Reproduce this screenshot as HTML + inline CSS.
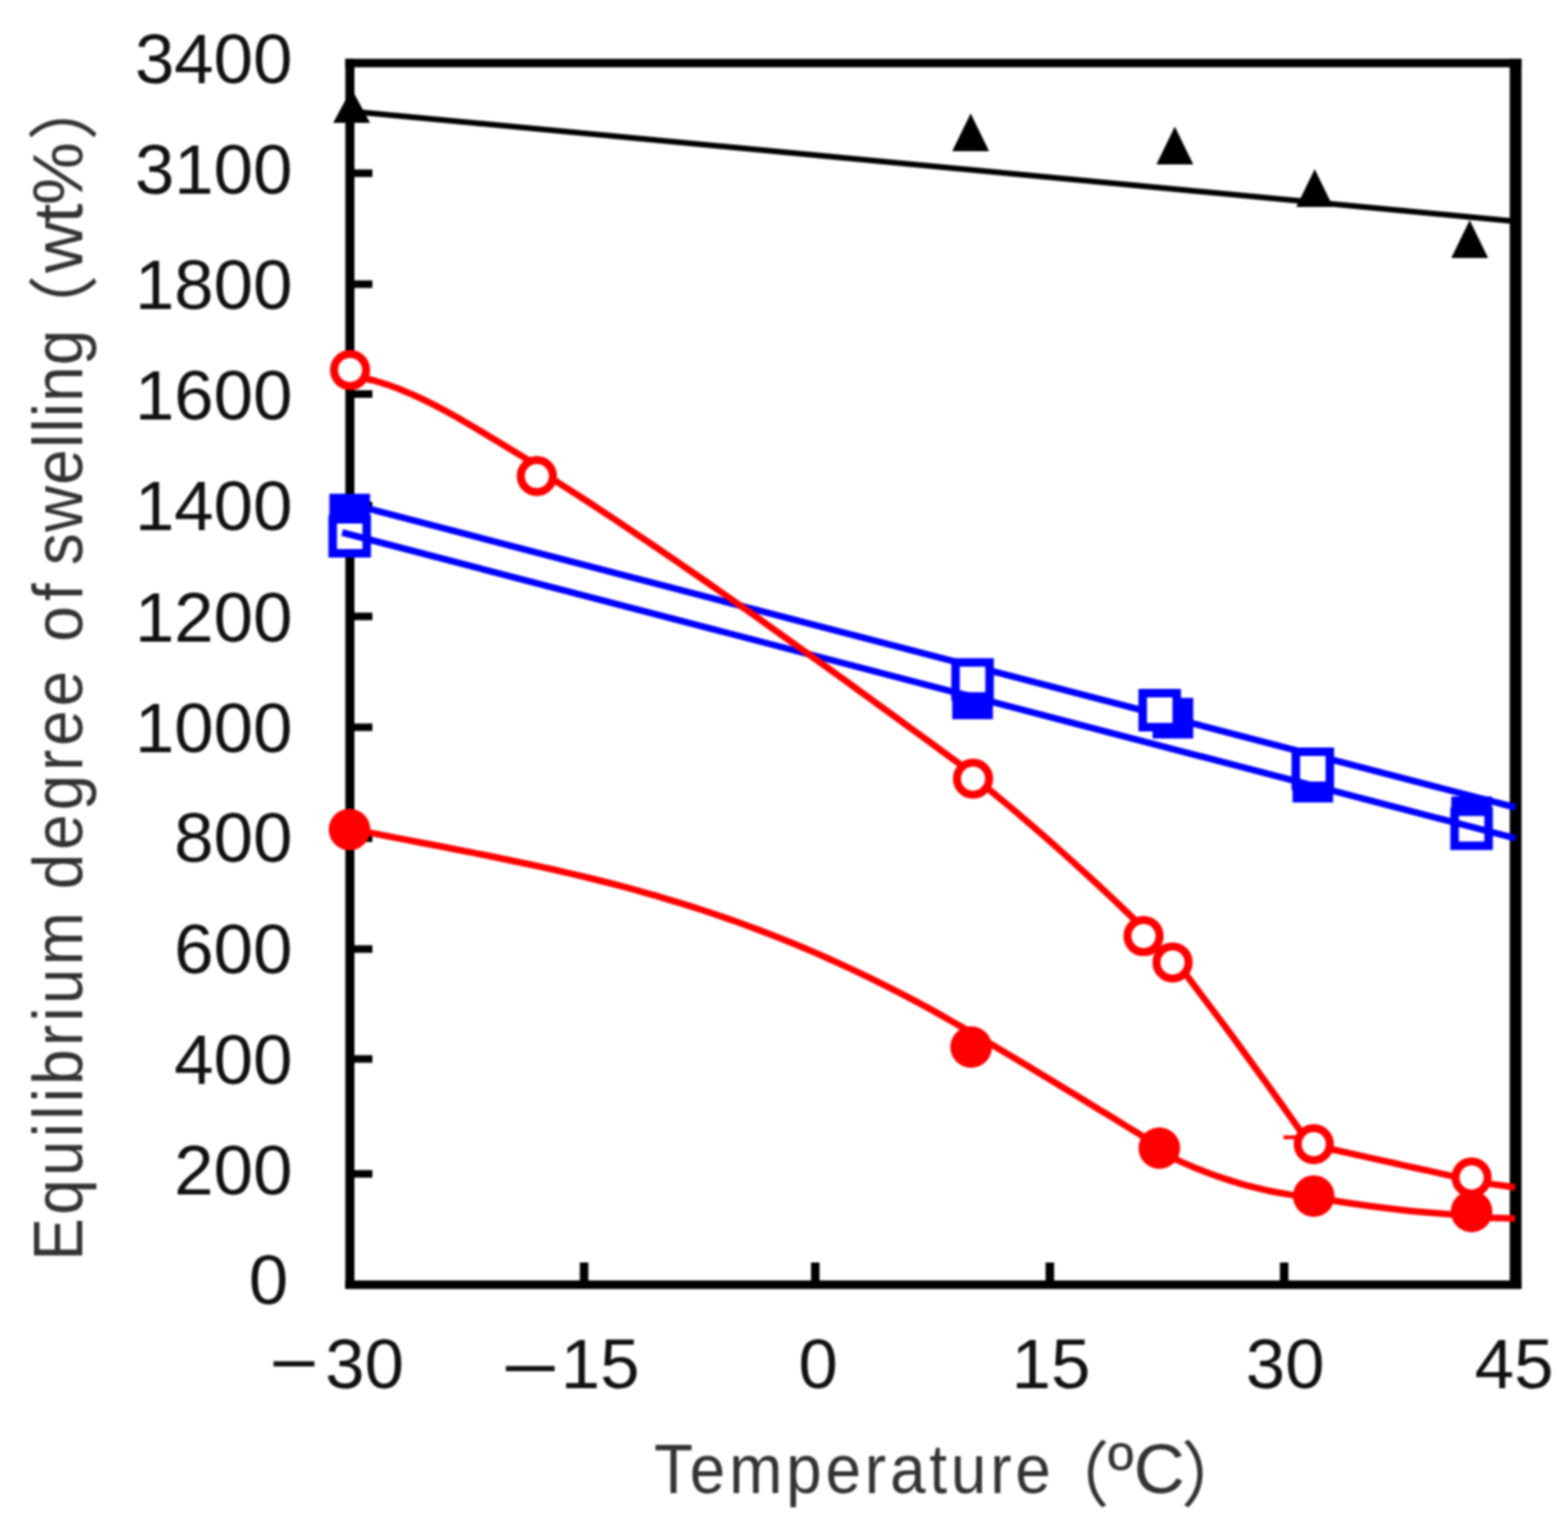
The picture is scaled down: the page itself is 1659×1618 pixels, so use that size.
<!DOCTYPE html>
<html><head><meta charset="utf-8"><title>Equilibrium degree of swelling vs temperature</title>
<style>html,body{margin:0;padding:0;background:#fff;overflow:hidden}svg{display:block;filter:blur(1.2px)}</style></head>
<body>
<svg width="1659" height="1618" viewBox="0 0 1659 1618">
<rect width="1659" height="1618" fill="#fff"/>
<line x1="618" y1="1336" x2="618" y2="1360" stroke="#000" stroke-width="9"/>
<line x1="862.6" y1="1336" x2="862.6" y2="1360" stroke="#000" stroke-width="9"/>
<line x1="1110.8" y1="1336" x2="1110.8" y2="1360" stroke="#000" stroke-width="9"/>
<line x1="1358.7" y1="1336" x2="1358.7" y2="1360" stroke="#000" stroke-width="9"/>
<line x1="370" y1="183.3" x2="394" y2="183.3" stroke="#000" stroke-width="8"/>
<line x1="370" y1="300.7" x2="394" y2="300.7" stroke="#000" stroke-width="8"/>
<line x1="370" y1="417" x2="394" y2="417" stroke="#000" stroke-width="8"/>
<line x1="370" y1="535" x2="394" y2="535" stroke="#000" stroke-width="8"/>
<line x1="370" y1="652.3" x2="394" y2="652.3" stroke="#000" stroke-width="8"/>
<line x1="370" y1="769.6" x2="394" y2="769.6" stroke="#000" stroke-width="8"/>
<line x1="370" y1="887" x2="394" y2="887" stroke="#000" stroke-width="8"/>
<line x1="370" y1="1004.3" x2="394" y2="1004.3" stroke="#000" stroke-width="8"/>
<line x1="370" y1="1120.6" x2="394" y2="1120.6" stroke="#000" stroke-width="8"/>
<line x1="370" y1="1242.2" x2="394" y2="1242.2" stroke="#000" stroke-width="8"/>
<line x1="370.2" y1="62.3" x2="370.2" y2="1364.1" stroke="#000" stroke-width="9.6"/>
<line x1="1603.6" y1="62.3" x2="1603.6" y2="1364.1" stroke="#000" stroke-width="12.5"/>
<line x1="365.4" y1="66.8" x2="1609.8" y2="66.8" stroke="#000" stroke-width="9"/>
<line x1="365.4" y1="1359.6" x2="1609.8" y2="1359.6" stroke="#000" stroke-width="9"/>
<line x1="370" y1="117.7" x2="1603.5" y2="234.2" stroke="#000" stroke-width="6"/>
<polygon points="372,94 391.5,130 352.5,130" fill="#000"/>
<polygon points="1027,120 1046.5,160 1007.5,160" fill="#000"/>
<polygon points="1243,134 1262.5,174 1223.5,174" fill="#000"/>
<polygon points="1391,179 1410.5,219 1371.5,219" fill="#000"/>
<polygon points="1555,233 1574.5,273 1535.5,273" fill="#000"/>
<rect x="348.5" y="522.5" width="43" height="43" fill="#0000ff"/>
<rect x="1007.5" y="718.1" width="43" height="43" fill="#0000ff"/>
<rect x="1219.5" y="738.5" width="43" height="43" fill="#0000ff"/>
<rect x="1367.5" y="806.2" width="43" height="43" fill="#0000ff"/>
<rect x="1535.5" y="842.8" width="43" height="43" fill="#0000ff"/>
<line x1="370" y1="533.2" x2="1603.5" y2="854.5" stroke="#0000ff" stroke-width="7"/>
<rect x="352" y="549.5" width="36" height="36" fill="#fff" stroke="#0000ff" stroke-width="9"/>
<rect x="1011" y="701" width="36" height="36" fill="#fff" stroke="#0000ff" stroke-width="9"/>
<rect x="1209" y="733.5" width="36" height="36" fill="#fff" stroke="#0000ff" stroke-width="9"/>
<rect x="1371" y="795.5" width="36" height="36" fill="#fff" stroke="#0000ff" stroke-width="9"/>
<rect x="1539" y="859" width="36" height="36" fill="#fff" stroke="#0000ff" stroke-width="9"/>
<line x1="362" y1="563.5" x2="1603.5" y2="887.2" stroke="#0000ff" stroke-width="7"/>
<path d="M372.0,397.8 L384.4,400.0 L396.8,403.0 L409.1,406.8 L421.5,411.3 L433.9,416.4 L446.2,422.0 L458.6,428.1 L471.0,434.7 L483.4,441.5 L495.8,448.7 L508.1,456.0 L520.5,463.5 L532.9,471.1 L545.2,478.6 L557.6,486.1 L570.0,493.5 M566.0,495.0 L578.2,502.8 L590.4,510.6 L602.6,518.4 L614.8,526.3 L627.1,534.3 L639.3,542.4 L651.5,550.4 L663.7,558.6 L675.9,566.8 L688.1,575.0 L700.3,583.3 L712.5,591.7 L724.7,600.1 L736.9,608.5 L749.2,617.0 L761.4,625.5 L773.6,634.0 L785.8,642.6 L798.0,651.2 L810.2,659.9 L822.4,668.6 L834.6,677.3 L846.8,686.0 L859.1,694.8 L871.3,703.6 L883.5,712.4 L895.7,721.2 L907.9,730.1 L920.1,738.9 L932.3,747.8 L944.5,756.7 L956.7,765.6 L968.9,774.5 L981.2,783.4 L993.4,792.4 L1005.6,801.3 L1017.8,810.2 L1030.0,819.2 M1027.0,819.6 L1039.2,829.5 L1051.4,839.5 L1063.6,849.6 L1075.8,859.9 L1088.0,870.4 L1100.2,880.9 L1112.4,891.7 L1124.6,902.5 L1136.8,913.5 L1149.0,924.6 L1161.2,935.9 L1173.4,947.3 L1185.6,958.9 L1197.8,970.6 L1210.0,982.4 M1239.0,1010.8 L1251.8,1027.4 L1264.5,1044.1 L1277.2,1061.0 L1290.0,1078.0 L1302.8,1095.2 L1315.5,1112.6 L1328.2,1130.1 L1341.0,1147.7 L1353.8,1165.6 L1366.5,1183.6 L1379.2,1201.7 L1392.0,1220.0 M1388.0,1211.5 L1400.2,1214.2 L1412.4,1217.0 L1424.6,1219.7 L1436.9,1222.4 L1449.1,1225.1 L1461.3,1227.8 L1473.5,1230.5 L1485.7,1233.3 L1497.9,1236.0 L1510.1,1238.7 L1522.4,1241.4 L1534.6,1244.1 L1546.8,1246.8 L1559.0,1249.5 M1555.0,1249.8 L1567.0,1251.4 L1579.0,1253.1 L1591.0,1254.8 L1603.0,1256.5 M1209.9,990.6 L1240.6,1018.4" fill="none" stroke="#ff0000" stroke-width="7" stroke-linejoin="round"/>
<path d="M371.0,877.1 L383.0,879.5 L395.0,881.9 L407.0,884.2 L419.0,886.6 L431.0,888.9 L443.0,891.2 L455.0,893.5 L467.0,895.8 L479.0,898.2 L491.0,900.5 L503.0,902.9 L515.0,905.3 L527.0,907.7 L539.0,910.2 L551.0,912.7 L563.0,915.2 L575.0,917.9 L587.0,920.5 L599.0,923.3 L611.0,926.1 L623.0,929.0 L635.0,932.0 L647.0,935.0 L659.0,938.2 L671.0,941.4 L683.0,944.8 L695.0,948.2 L707.0,951.8 L719.0,955.4 L731.0,959.2 L743.0,963.0 L755.0,967.0 L767.0,971.1 L779.0,975.3 L791.0,979.7 L803.0,984.1 L815.0,988.7 L827.0,993.5 L839.0,998.3 L851.0,1003.3 L863.0,1008.4 L875.0,1013.7 L887.0,1019.1 L899.0,1024.6 L911.0,1030.3 L923.0,1036.1 L935.0,1042.1 L947.0,1048.1 L959.0,1054.4 L971.0,1060.7 L983.0,1067.2 L995.0,1073.9 L1007.0,1080.7 L1019.0,1087.6 L1031.0,1094.7 M1027.0,1092.2 L1039.6,1099.6 L1052.1,1107.1 L1064.7,1114.5 L1077.2,1122.1 L1089.8,1129.6 L1102.4,1137.2 L1114.9,1144.7 L1127.5,1152.4 L1140.1,1160.0 L1152.6,1167.7 L1165.2,1175.4 L1177.8,1183.1 L1190.3,1190.9 L1202.9,1198.6 L1215.4,1206.4 L1228.0,1214.3 M1225.0,1217.6 L1237.8,1224.0 L1250.7,1229.9 L1263.5,1235.4 L1276.4,1240.5 L1289.2,1245.2 L1302.1,1249.4 L1314.9,1253.3 L1327.8,1256.7 L1340.6,1259.7 L1353.5,1262.2 L1366.3,1264.4 L1379.2,1266.1 L1392.0,1267.4 M1388.0,1266.6 L1400.2,1268.7 L1412.4,1270.8 L1424.6,1272.7 L1436.9,1274.5 L1449.1,1276.2 L1461.3,1277.8 L1473.5,1279.3 L1485.7,1280.7 L1497.9,1281.9 L1510.1,1283.1 L1522.4,1284.1 L1534.6,1285.0 L1546.8,1285.8 L1559.0,1286.5 M1555.0,1288.3 L1567.0,1288.6 L1579.0,1288.8 L1591.0,1289.1 L1603.0,1289.4" fill="none" stroke="#ff0000" stroke-width="7" stroke-linejoin="round"/>
<line x1="1358" y1="1203.5" x2="1376" y2="1203.5" stroke="#ff0000" stroke-width="4"/>
<circle cx="370.4" cy="391.6" r="17" fill="#fff" stroke="#ff0000" stroke-width="8.5"/>
<circle cx="568" cy="503.8" r="17" fill="#fff" stroke="#ff0000" stroke-width="8.5"/>
<circle cx="1029.5" cy="824" r="17" fill="#fff" stroke="#ff0000" stroke-width="8.5"/>
<circle cx="1209.9" cy="990.6" r="17" fill="#fff" stroke="#ff0000" stroke-width="8.5"/>
<circle cx="1240.6" cy="1018.4" r="17" fill="#fff" stroke="#ff0000" stroke-width="8.5"/>
<circle cx="1390" cy="1210.7" r="17" fill="#fff" stroke="#ff0000" stroke-width="8.5"/>
<circle cx="1557" cy="1246" r="17" fill="#fff" stroke="#ff0000" stroke-width="8.5"/>
<circle cx="369.8" cy="877.8" r="22" fill="#ff0000"/>
<circle cx="1027.5" cy="1108" r="22" fill="#ff0000"/>
<circle cx="1226.6" cy="1215" r="22" fill="#ff0000"/>
<circle cx="1390" cy="1265.7" r="22" fill="#ff0000"/>
<circle cx="1557" cy="1282" r="22" fill="#ff0000"/>
<g fill="#111">
<text x="309.5" y="87.5" font-size="75" text-anchor="end" font-family="Liberation Sans, Arial, sans-serif">3400</text>
<text x="309.5" y="205.4" font-size="75" text-anchor="end" font-family="Liberation Sans, Arial, sans-serif">3100</text>
<text x="309.5" y="327.4" font-size="75" text-anchor="end" font-family="Liberation Sans, Arial, sans-serif">1800</text>
<text x="309.5" y="444.2" font-size="75" text-anchor="end" font-family="Liberation Sans, Arial, sans-serif">1600</text>
<text x="309.5" y="561.4" font-size="75" text-anchor="end" font-family="Liberation Sans, Arial, sans-serif">1400</text>
<text x="309.5" y="678.6" font-size="75" text-anchor="end" font-family="Liberation Sans, Arial, sans-serif">1200</text>
<text x="309.5" y="795.6" font-size="75" text-anchor="end" font-family="Liberation Sans, Arial, sans-serif">1000</text>
<text x="309.5" y="912.1" font-size="75" text-anchor="end" font-family="Liberation Sans, Arial, sans-serif">800</text>
<text x="309.5" y="1029.8" font-size="75" text-anchor="end" font-family="Liberation Sans, Arial, sans-serif">600</text>
<text x="309.5" y="1146.8" font-size="75" text-anchor="end" font-family="Liberation Sans, Arial, sans-serif">400</text>
<text x="309.5" y="1264.1" font-size="75" text-anchor="end" font-family="Liberation Sans, Arial, sans-serif">200</text>
<text x="305" y="1380.3" font-size="75" text-anchor="end" font-family="Liberation Sans, Arial, sans-serif">0</text>
<text x="385.7" y="1469.3" font-size="75" text-anchor="middle" font-family="Liberation Sans, Arial, sans-serif">30</text>
<text x="635" y="1469.3" font-size="75" text-anchor="middle" font-family="Liberation Sans, Arial, sans-serif">15</text>
<text x="865.7" y="1469.3" font-size="75" text-anchor="middle" font-family="Liberation Sans, Arial, sans-serif">0</text>
<text x="1112" y="1469.3" font-size="75" text-anchor="middle" font-family="Liberation Sans, Arial, sans-serif">15</text>
<text x="1359.7" y="1469.3" font-size="75" text-anchor="middle" font-family="Liberation Sans, Arial, sans-serif">30</text>
<text x="1602" y="1469.3" font-size="75" text-anchor="middle" font-family="Liberation Sans, Arial, sans-serif">45</text>
<text x="285" y="1468" font-size="75" textLength="52" lengthAdjust="spacingAndGlyphs" font-family="Liberation Sans, Arial, sans-serif">−</text>
<text x="530" y="1473" font-size="75" textLength="62" lengthAdjust="spacingAndGlyphs" font-family="Liberation Sans, Arial, sans-serif">−</text>
<g font-size="75" fill="#333" font-family="Liberation Sans, Noto Sans CJK JP, sans-serif">
<text transform="scale(0.9,1)" x="768.89" y="1580" letter-spacing="4.56">Temperature</text>
<text x="1099.0" y="1588">（</text>
<text x="1172" y="1580">ºC</text>
<text x="1249.6" y="1588">）</text>
</g>
<g transform="translate(86.5,0) rotate(-90)" font-size="75" fill="#333" font-family="Liberation Sans, Noto Sans CJK JP, sans-serif">
<text transform="scale(0.9,1)" x="-1482.22" y="0" letter-spacing="3.89">Equilibrium</text>
<text transform="scale(0.9,1)" x="-1045.56" y="0" letter-spacing="4.67">degree</text>
<text transform="scale(0.9,1)" x="-754.44" y="0" letter-spacing="6.11">of</text>
<text transform="scale(0.9,1)" x="-664.44" y="0" letter-spacing="1.43">swelling</text>
<text x="-365.7" y="8">（</text>
<text x="-289.00" y="0" letter-spacing="-1.50">wt%</text>
<text x="-149.0" y="8">）</text>
</g>
</g>
</svg>
</body></html>
